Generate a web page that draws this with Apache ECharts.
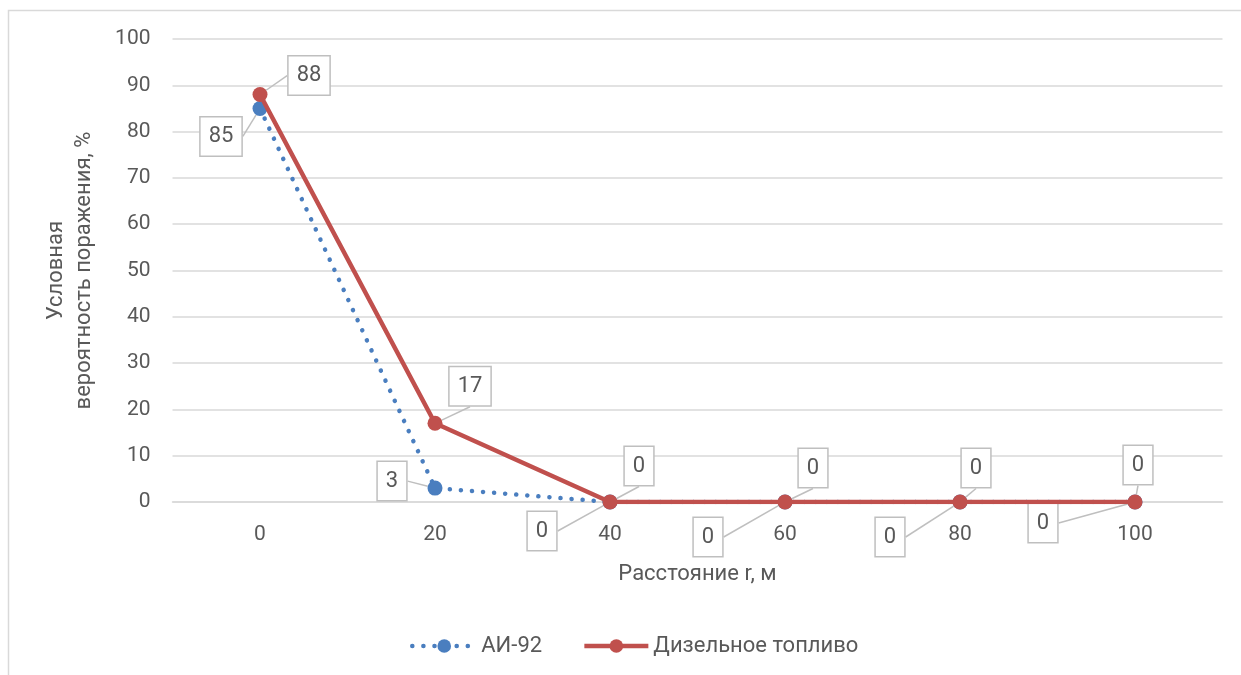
<!DOCTYPE html>
<html>
<head>
<meta charset="utf-8">
<script src="https://cdn.jsdelivr.net/npm/echarts@6/dist/echarts.min.js"></script>
<style>
  html, body { margin: 0; padding: 0; background: #fff; }
  #chart { width: 1241px; height: 675px; }
</style>
</head>
<body>
<div id="chart"></div>
<script>
// Distance from the source, m
const distances = ['0', '20', '40', '60', '80', '100'];
// Conditional probability of damage, %
const ai92 = [85, 3, 0, 0, 0, 0];
const diesel = [88, 17, 0, 0, 0, 0];

// Callout box displacement from each point (px)
const ai92Callout = [[-39, 28], [-43, -7], [-68, 29], [-77, 35], [-70, 35], [-92, 21]];
const dieselCallout = [[49, -19], [35, -37], [29, -36], [28, -34], [16, -34], [3, -37]];

const FONT = 'Roboto, "Noto Sans", sans-serif';
const TEXT = '#595959';
const BLUE = '#4a7ebf';
const RED = '#c0504d';

const calloutLabel = {
  show: true,
  position: 'inside',
  fontFamily: FONT,
  fontSize: 22,
  lineHeight: 24,
  color: TEXT,
  backgroundColor: '#fff',
  borderColor: '#bfbfbf',
  borderWidth: 1.5,
  padding: [8, 8, 6, 8]
};
const calloutLine = { show: true, lineStyle: { color: '#bfbfbf', width: 1.5 } };

const chart = echarts.init(document.getElementById('chart'), null, { renderer: 'canvas' });
chart.setOption({
  animation: false,
  backgroundColor: '#fff',
  textStyle: { fontFamily: FONT },
  graphic: [{
    type: 'rect',
    shape: { x: 8.5, y: 10.5, width: 1300, height: 800 },
    style: { fill: 'none', stroke: '#d9d9d9', lineWidth: 1.5 },
    silent: true,
    z: -1
  }],
  grid: { left: 172.5, right: 18.5, top: 39, bottom: 173 },
  xAxis: {
    type: 'category',
    data: distances,
    boundaryGap: true,
    name: 'Расстояние r, м',
    nameLocation: 'middle',
    nameGap: 61,
    nameTextStyle: { fontFamily: FONT, fontSize: 22, color: TEXT },
    axisLine: { show: true, lineStyle: { color: '#d9d9d9', width: 1.5 } },
    axisTick: { show: false },
    axisLabel: { fontFamily: FONT, fontSize: 21, color: TEXT, margin: 22 }
  },
  yAxis: {
    type: 'value',
    min: 0,
    max: 100,
    interval: 10,
    name: 'Условная\nвероятность поражения, %',
    nameLocation: 'middle',
    nameGap: 74,
    nameTextStyle: { fontFamily: FONT, fontSize: 22, color: TEXT, lineHeight: 28 },
    axisLine: { show: false },
    axisTick: { show: false },
    axisLabel: { fontFamily: FONT, fontSize: 21, color: TEXT, margin: 22 },
    splitLine: { lineStyle: { color: '#d9d9d9', width: 1.5 } }
  },
  legend: {
    bottom: 13,
    left: 405,
    itemGap: 40,
    itemWidth: 64,
    itemHeight: 17,
    textStyle: { fontFamily: FONT, fontSize: 22, color: TEXT },
    data: [
      { name: 'АИ-92', lineStyle: { width: 4.5 } },
      { name: 'Дизельное топливо', lineStyle: { width: 4.5 } }
    ]
  },
  series: [
    {
      name: 'АИ-92',
      type: 'line',
      data: ai92,
      symbol: 'circle',
      symbolSize: 15,
      itemStyle: { color: BLUE },
      lineStyle: { color: BLUE, width: 4.5, type: [0.1, 11], cap: 'round' },
      label: calloutLabel,
      labelLine: calloutLine,
      labelLayout: p => ({ dx: ai92Callout[p.dataIndex][0], dy: ai92Callout[p.dataIndex][1] }),
      z: 2
    },
    {
      name: 'Дизельное топливо',
      type: 'line',
      data: diesel,
      symbol: 'circle',
      symbolSize: 15,
      itemStyle: { color: RED },
      lineStyle: { color: RED, width: 4.5 },
      label: calloutLabel,
      labelLine: calloutLine,
      labelLayout: p => ({ dx: dieselCallout[p.dataIndex][0], dy: dieselCallout[p.dataIndex][1] }),
      z: 3
    }
  ]
});
</script>
</body>
</html>
